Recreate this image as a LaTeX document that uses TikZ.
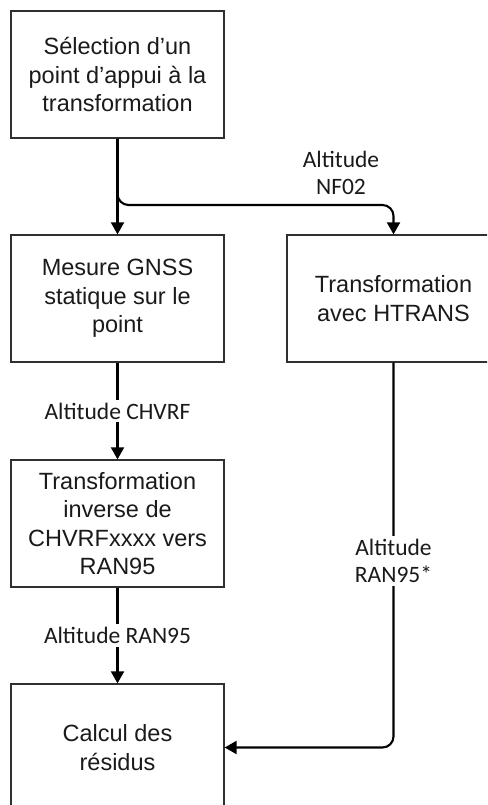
\documentclass[tikz,border=0pt]{standalone}
\usepackage{fontspec}
\setmainfont{Liberation Sans}
\newfontfamily\lblfont{Carlito}
\usetikzlibrary{arrows.meta}
\definecolor{boxline}{HTML}{303030}
\definecolor{txt}{HTML}{1A1A1A}
\tikzset{
  box/.style={draw=boxline, line width=1.3pt, minimum width=213pt, minimum height=127pt,
    inner sep=0pt, align=center, text=txt, font=\fontsize{23.5pt}{28.5pt}\selectfont},
  conn/.style={line width=2.1pt, -{Triangle[length=12pt,width=13pt]}},
  lbl/.style={font=\lblfont\fontsize{23.5pt}{27.5pt}\selectfont, text=txt, align=center,
    fill=white, inner sep=3pt}
}
\begin{document}
\begin{tikzpicture}[x=1pt,y=1pt]
\useasboundingbox (0,0) rectangle (487,-805);
\begin{scope}
\clip (0,0) rectangle (487,-805);
\node[box] (sel) at (117.5,-74.5) {Sélection d’un\\point d’appui à la\\transformation};
\node[box] (mes) at (117.5,-298.5) {Mesure GNSS\\statique sur le\\point};
\node[box] (htr) at (393.5,-298.5) {Transformation\\avec HTRANS};
\node[box] (inv) at (117.5,-523.5) {Transformation\\inverse de\\CHVRFxxxx vers\\RAN95};
\node[box] (cal) at (117.5,-747.5) {Calcul des\\résidus};
\end{scope}
\coordinate (br) at (sel.south |- 0,-205);
\coordinate (corner) at (htr.south |- cal.east);
\draw[conn] (sel.south) -- (mes.north);
\draw[conn, rounded corners=11pt] (sel.south) -- (br) -- (htr.north |- br) -- (htr.north);
\node[lbl, fill=none] (nf) at (341,-173) {Altitude\\NF02};
\draw[conn] (mes.south) -- node[lbl] (chv) {Altitude CHVRF} (inv.north);
\draw[conn] (inv.south) -- node[lbl] (r95) {Altitude RAN95} (cal.north);
\coordinate (mid) at (393.5,-561);
\draw[conn, rounded corners=11pt] (htr.south) -- (mid) -- (corner) -- (cal.east);
\node[lbl] (r95s) at (mid) {Altitude\\RAN95*};
\end{tikzpicture}
\end{document}
